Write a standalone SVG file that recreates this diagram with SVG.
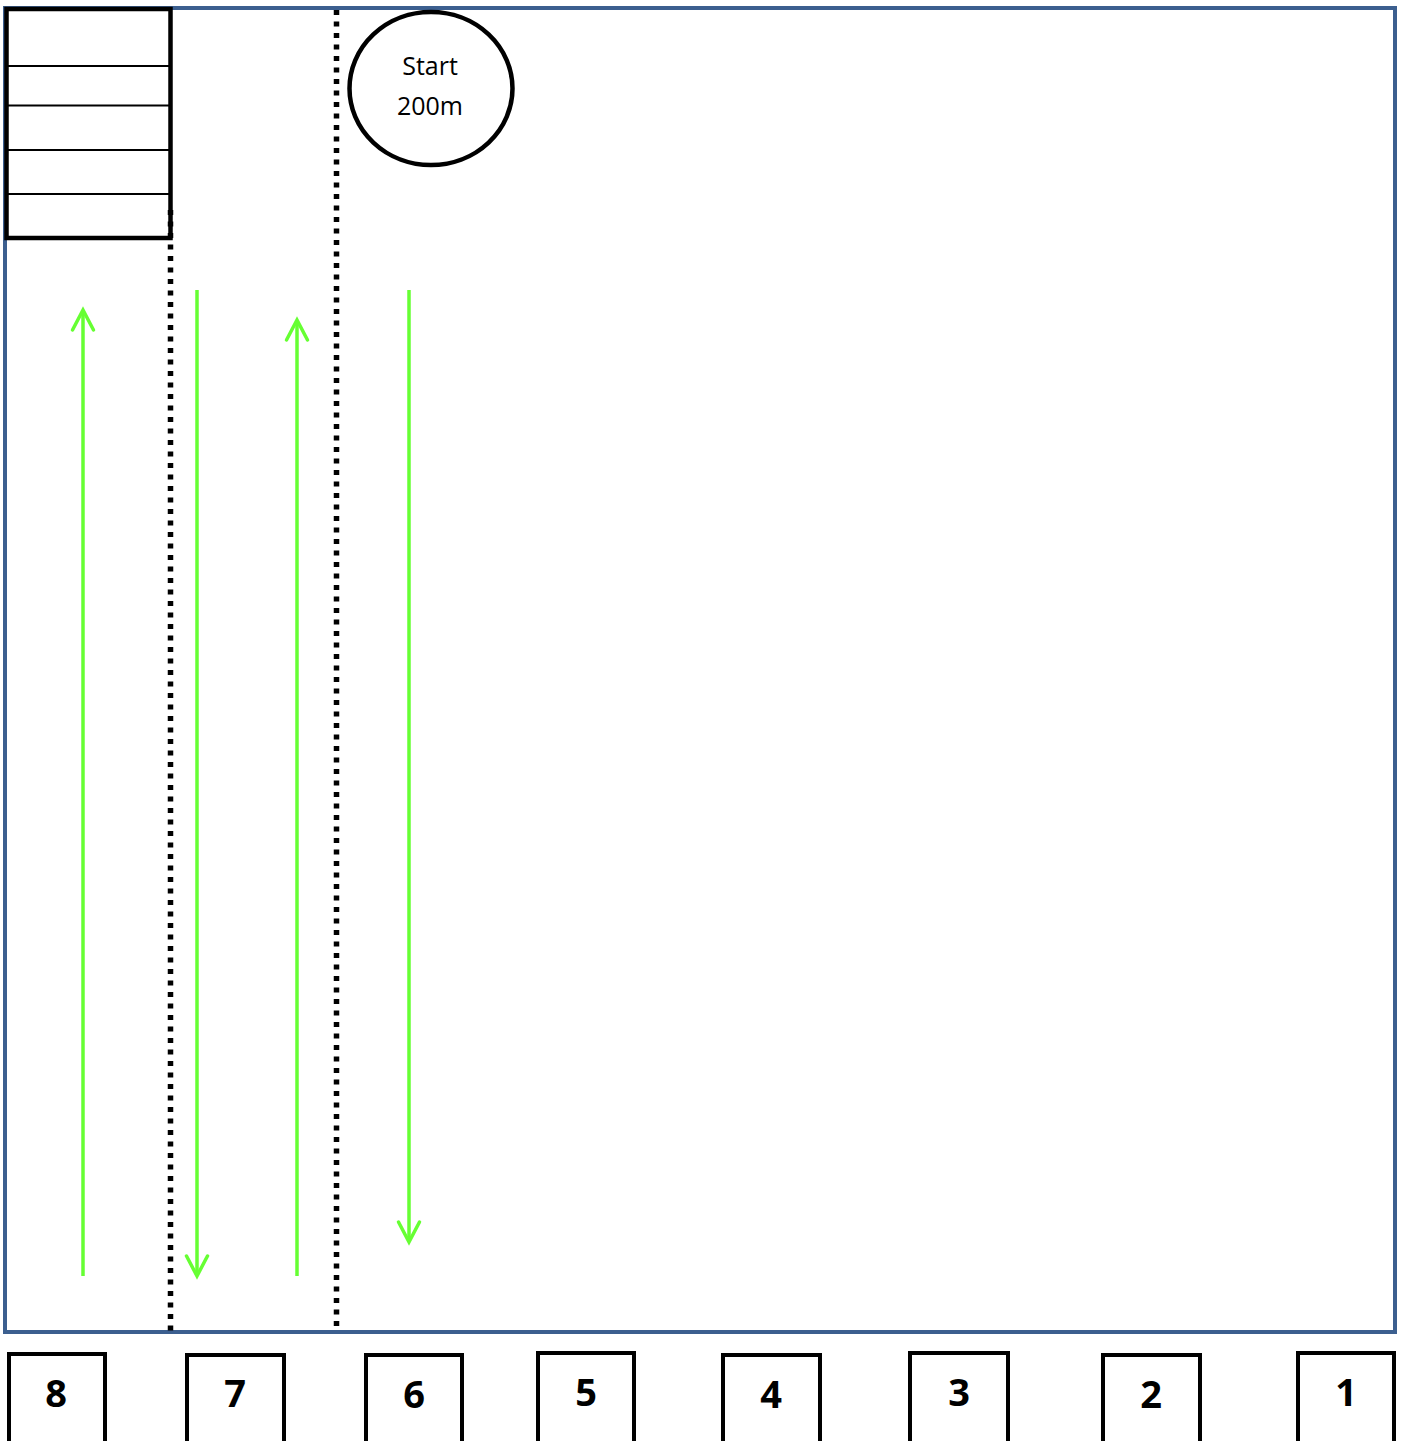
<svg xmlns="http://www.w3.org/2000/svg" width="1405" height="1441" viewBox="0 0 1405 1441">
  <style>
    .frame { fill: none; stroke: #3C5F8F; stroke-width: 4; }
    .blk { fill: none; stroke: #000; stroke-width: 4.5; }
    .thin { stroke: #000; stroke-width: 2; }
    .dots { stroke: #000; stroke-width: 5.5; stroke-dasharray: 5 6.5; fill: none; }
    .arrow { stroke: #66FF33; stroke-width: 3.5; fill: none; marker-end: url(#head); }
    .lbl { font-family: "Open Sans", "Liberation Sans", sans-serif; font-size: 25px; text-anchor: middle; fill: #000; }
    .num { font-family: "Open Sans", "Liberation Sans", sans-serif; font-size: 38px; font-weight: bold; text-anchor: middle; fill: #000; }
    .box { fill: #fff; stroke: #000; stroke-width: 4; }
  </style>
  <defs>
    <marker id="head" viewBox="-24 -14 28 28" markerWidth="28" markerHeight="28" refX="0" refY="0" orient="auto" markerUnits="userSpaceOnUse">
      <path d="M-20,-10.5 L0,0 L-20,10.5" fill="none" stroke="#66FF33" stroke-width="3.5" stroke-linejoin="miter" stroke-linecap="round"/>
    </marker>
  </defs>
  <rect width="1405" height="1441" fill="#fff"/>

  <g id="field">
    <rect class="frame" x="5" y="8" width="1390" height="1324"/>
  </g>

  <g id="stack">
    <rect x="7" y="8" width="164" height="230" fill="#fff" stroke="none"/>
    <line class="thin" x1="7" y1="66" x2="169" y2="66"/>
    <line class="thin" x1="7" y1="105.5" x2="169" y2="105.5"/>
    <line class="thin" x1="7" y1="150" x2="169" y2="150"/>
    <line class="thin" x1="7" y1="194" x2="169" y2="194"/>
    <rect class="blk" x="6.5" y="9" width="164" height="229"/>
  </g>

  <g id="lanes">
    <line class="dots" x1="170.5" y1="210" x2="170.5" y2="1332"/>
    <line class="dots" x1="336.5" y1="10" x2="336.5" y2="1332"/>
  </g>

  <g id="start">
    <ellipse cx="431" cy="88.5" rx="81.5" ry="76.5" fill="#fff" stroke="#000" stroke-width="4.5"/>
    <text class="lbl" x="430" y="75">Start</text>
    <text class="lbl" x="430" y="115">200m</text>
  </g>

  <g id="connectors">
    <line class="arrow" x1="83" y1="1276" x2="83" y2="310"/>
    <line class="arrow" x1="197" y1="290" x2="197" y2="1276"/>
    <line class="arrow" x1="297" y1="1276" x2="297" y2="320"/>
    <line class="arrow" x1="409" y1="290" x2="409" y2="1242"/>
  </g>

  <g id="pos8"><rect class="box" x="9" y="1354" width="96" height="100"/><text class="num" x="56" y="1407">8</text></g>
  <g id="pos7"><rect class="box" x="187" y="1355" width="97" height="100"/><text class="num" x="235" y="1407">7</text></g>
  <g id="pos6"><rect class="box" x="366" y="1355" width="96" height="100"/><text class="num" x="414" y="1408">6</text></g>
  <g id="pos5"><rect class="box" x="538" y="1353" width="96" height="100"/><text class="num" x="586" y="1406">5</text></g>
  <g id="pos4"><rect class="box" x="723" y="1355" width="97" height="100"/><text class="num" x="771" y="1408">4</text></g>
  <g id="pos3"><rect class="box" x="910" y="1353" width="98" height="100"/><text class="num" x="959" y="1406">3</text></g>
  <g id="pos2"><rect class="box" x="1103" y="1355" width="97" height="100"/><text class="num" x="1151" y="1408">2</text></g>
  <g id="pos1"><rect class="box" x="1298" y="1353" width="96" height="100"/><text class="num" x="1346" y="1406">1</text></g>
</svg>
